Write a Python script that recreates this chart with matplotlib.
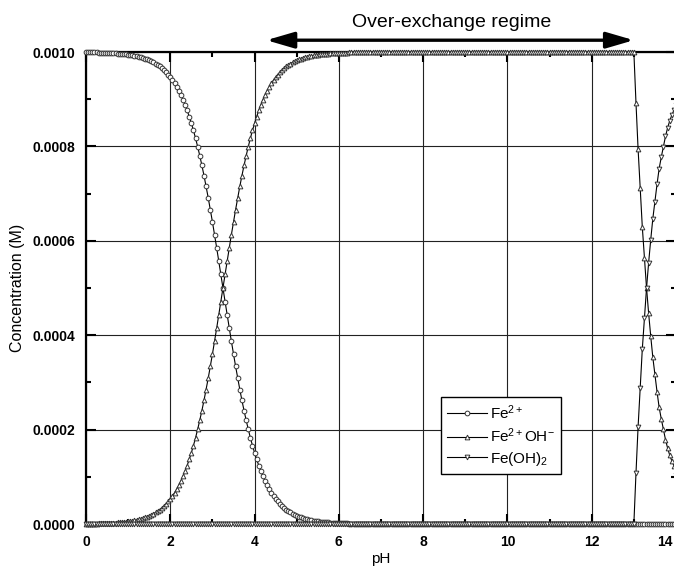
import matplotlib
matplotlib.use("agg")
from matplotlib import pyplot as plt
from matplotlib.ticker import MultipleLocator, FormatStrFormatter, FuncFormatter
import numpy as np

# pH sweep, 0.05 steps from 0 to 14
ph = np.round(np.arange(0, 14.001, 0.05), 2)

# concentrations, in micromolar
fe2 = [
    999.4, 999.4, 999.3, 999.2, 999.1, 999.0, 998.9, 998.7, 998.6, 998.4,
    998.2, 998.0, 997.8, 997.5, 997.2, 996.8, 996.5, 996.0, 995.5, 995.0,
    994.4, 993.7, 993.0, 992.1, 991.2, 990.1, 988.9, 987.6, 986.1, 984.4,
    982.5, 980.4, 978.1, 975.5, 972.6, 969.3, 965.7, 961.7, 957.2, 952.3,
    946.8, 940.6, 933.9, 926.4, 918.2, 909.1, 899.1, 888.2, 876.2, 863.2,
    849.0, 833.7, 817.1, 799.2, 780.1, 759.7, 738.1, 715.2, 691.2, 666.1,
    640.1, 613.1, 585.5, 557.3, 528.7, 500.0,
    471.3, 442.7, 414.5, 386.9, 359.9, 333.9, 308.8, 284.8, 261.9, 240.3,
    219.9, 200.8, 182.9, 166.3, 151.0, 136.8, 123.8, 111.8, 100.9, 90.9,
    81.8, 73.6, 66.1, 59.4, 53.2, 47.7, 42.8, 38.3, 34.3, 30.7,
    27.4, 24.5, 21.9, 19.6, 17.5, 15.6, 13.9, 12.4, 11.1, 9.9,
    8.8, 7.9, 7.0, 6.3, 5.6, 5.0, 4.5, 4.0, 3.5, 3.2,
    2.8, 2.5, 2.2, 2.0, 1.8, 1.6, 1.4, 1.3, 1.1, 1.0,
    0.9, 0.8, 0.7, 0.6, 0.6,
] + [0.0] * 150

fe2oh = [
    0.6, 0.6, 0.7, 0.8, 0.9, 1.0, 1.1, 1.3, 1.4, 1.6,
    1.8, 2.0, 2.2, 2.5, 2.8, 3.2, 3.5, 4.0, 4.5, 5.0,
    5.6, 6.3, 7.0, 7.9, 8.8, 9.9, 11.1, 12.4, 13.9, 15.6,
    17.5, 19.6, 21.9, 24.5, 27.4, 30.7, 34.3, 38.3, 42.8, 47.7,
    53.2, 59.4, 66.1, 73.6, 81.8, 90.9, 100.9, 111.8, 123.8, 136.8,
    151.0, 166.3, 182.9, 200.8, 219.9, 240.3, 261.9, 284.8, 308.8, 333.9,
    359.9, 386.9, 414.5, 442.7, 471.3, 500.0,
    528.7, 557.3, 585.5, 613.1, 640.1, 666.1, 691.2, 715.2, 738.1, 759.7,
    780.1, 799.2, 817.1, 833.7, 849.0, 863.2, 876.2, 888.2, 899.1, 909.1,
    918.2, 926.4, 933.9, 940.6, 946.8, 952.3, 957.2, 961.7, 965.7, 969.3,
    972.6, 975.5, 978.1, 980.4, 982.5, 984.4, 986.1, 987.6, 988.9, 990.1,
    991.2, 992.1, 993.0, 993.7, 994.4, 995.0, 995.5, 996.0, 996.5, 996.8,
    997.2, 997.5, 997.8, 998.0, 998.2, 998.4, 998.6, 998.7, 998.9, 999.0,
    999.1, 999.2, 999.3, 999.4, 999.4,
] + [1000.0] * 130 + [
    893, 795, 711, 630, 564, 501, 447, 398, 353, 317,
    280, 247, 223, 201, 179, 161, 146, 134, 123, 113,
]

feoh2 = [0.0] * 261 + [
    107, 205, 289, 370, 436, 499, 553, 602, 647, 683,
    720, 753, 777, 799, 821, 839, 854, 866, 877, 887,
]

labels = ["Fe$^{2+}$", "Fe$^{2+}$OH$^{-}$", "Fe(OH)$_{2}$"]
markers = ["o", "^", "v"]

plt.rcParams["font.family"] = ["Liberation Sans", "DejaVu Sans"]
plt.rcParams["mathtext.fontset"] = "custom"
plt.rcParams["mathtext.rm"] = "Liberation Sans"
plt.rcParams["mathtext.it"] = "Liberation Sans:italic"
plt.rcParams["mathtext.bf"] = "Liberation Sans:bold"
plt.rcParams["mathtext.default"] = "regular"

fig = plt.figure(figsize=(6.74, 5.68), dpi=100)
ax = fig.add_axes([86 / 674, 44 / 568, 590 / 674, 472 / 568])

for series, label, marker in zip([fe2, fe2oh, feoh2], labels, markers):
    ax.plot(ph, np.array(series) * 1e-6, color="black", lw=0.8, label=label,
            marker=marker, markersize=3.4, mfc="white", mec="#333333", mew=0.7,
            clip_on=False, zorder=3)

ax.set_xlim(0, 14)
ax.set_ylim(0, 0.001)
ax.xaxis.set_major_locator(MultipleLocator(2))
ax.xaxis.set_minor_locator(MultipleLocator(1))
# last x label is drawn by hand so it is not cut at the right edge
ax.xaxis.set_major_formatter(FuncFormatter(lambda v, _: "" if v >= 13.9 else f"{v:g}"))
ax.yaxis.set_major_locator(MultipleLocator(0.0002))
ax.yaxis.set_minor_locator(MultipleLocator(0.0001))
ax.yaxis.set_major_formatter(FormatStrFormatter("%.4f"))
ax.tick_params(which="both", direction="in", top=True, right=True, width=1.5)
ax.tick_params(which="major", length=7, pad=8, labelsize=10)
ax.tick_params(which="minor", length=3.5)
for lab in ax.get_xticklabels() + ax.get_yticklabels():
    lab.set_fontweight("bold")
ax.annotate("14", xy=(14, 0), xytext=(-8, -8), textcoords="offset points",
            ha="center", va="top", fontsize=10, fontweight="bold",
            annotation_clip=False)
for sp in ax.spines.values():
    sp.set_linewidth(1.6)
ax.grid(which="major", color="#222222", lw=0.8)

ax.set_xlabel("pH", fontsize=11, labelpad=2)
ax.set_ylabel("Concentration (M)", fontsize=11.5, labelpad=5)

ax.annotate("", xy=(4.28, 0.001025), xytext=(13.0, 0.001025),
            arrowprops=dict(arrowstyle="<|-|>,head_length=1.2,head_width=0.35",
                            lw=2.4, color="black", mutation_scale=14,
                            shrinkA=0, shrinkB=0),
            annotation_clip=False)
ax.text(8.67, 0.001052, "Over-exchange regime", fontsize=14,
        ha="center", va="baseline")

leg = ax.legend(loc="upper left", bbox_to_anchor=(0.602, 0.269),
                borderaxespad=0, fontsize=11, frameon=True, fancybox=False,
                handlelength=2.6, handletextpad=0.2, labelspacing=0.3,
                borderpad=0.4)
leg.get_frame().set_edgecolor("black")
leg.get_frame().set_linewidth(1.0)
leg.get_frame().set_alpha(1)

fig.savefig("out.png", dpi=100)
